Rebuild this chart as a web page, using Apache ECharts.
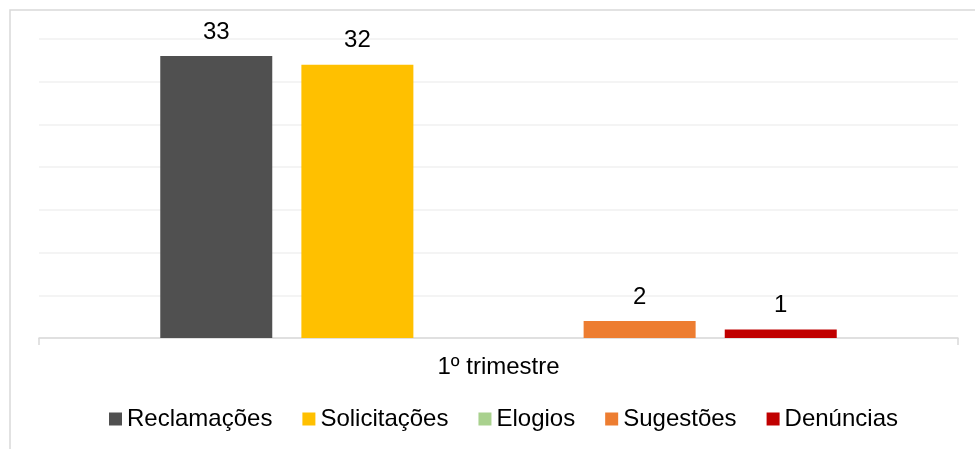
<!DOCTYPE html>
<html>
<head>
<meta charset="utf-8">
<script src="https://cdn.jsdelivr.net/npm/echarts@6/dist/echarts.min.js"></script>
<style>
  html, body { margin: 0; padding: 0; background: #fff; }
  #chart { width: 975px; height: 449px; }
</style>
</head>
<body>
<div id="chart"></div>
<script>
const categories = ["1º trimestre"];
const seriesNames = ["Reclamações", "Solicitações", "Elogios", "Sugestões", "Denúncias"];
const seriesValues = [[33], [32], [0], [2], [1]];
const seriesColors = ["#505050", "#FFC000", "#A9D18E", "#ED7D31", "#C00000"];

const font = "Liberation Sans, Arial, sans-serif";
const myChart = echarts.init(document.getElementById("chart"));

const series = seriesNames.map((name, i) => ({
    name: name,
    type: "bar",
    barWidth: 112,
    barGap: "26%",
    data: seriesValues[i],
    itemStyle: { color: seriesColors[i] },
    label: {
        show: true,
        position: "top",
        distance: 12,
        color: "#000",
        fontSize: 24,
        fontFamily: font,
        formatter: p => (p.value === 0 ? "" : p.value)
    }
}));

const option = {
    animation: false,
    grid: { left: 39, right: 17, top: 39, bottom: 111 },
    graphic: [{
        type: "rect",
        shape: { x: 10, y: 10, width: 1000, height: 500 },
        style: { fill: "none", stroke: "#d9d9d9", lineWidth: 1.5 },
        silent: true
    }],
    xAxis: {
        type: "category",
        data: categories,
        axisLine: { lineStyle: { color: "#d9d9d9", width: 1.5 } },
        axisTick: { show: true, length: 7, lineStyle: { color: "#d9d9d9", width: 1.5 } },
        axisLabel: { color: "#000", fontSize: 24, fontFamily: font, margin: 17 }
    },
    yAxis: {
        type: "value",
        min: 0,
        max: 35,
        interval: 5,
        axisLabel: { show: false },
        axisLine: { show: false },
        axisTick: { show: false },
        splitLine: { lineStyle: { color: "#f0f0f0", width: 1.5 } }
    },
    legend: {
        data: seriesNames,
        top: 402,
        left: 104,
        icon: "rect",
        itemWidth: 13,
        itemHeight: 13,
        itemGap: 30,
        textStyle: { color: "#000", fontSize: 24, fontFamily: font }
    },
    series: series
};
option && myChart.setOption(option);
</script>
</body>
</html>
